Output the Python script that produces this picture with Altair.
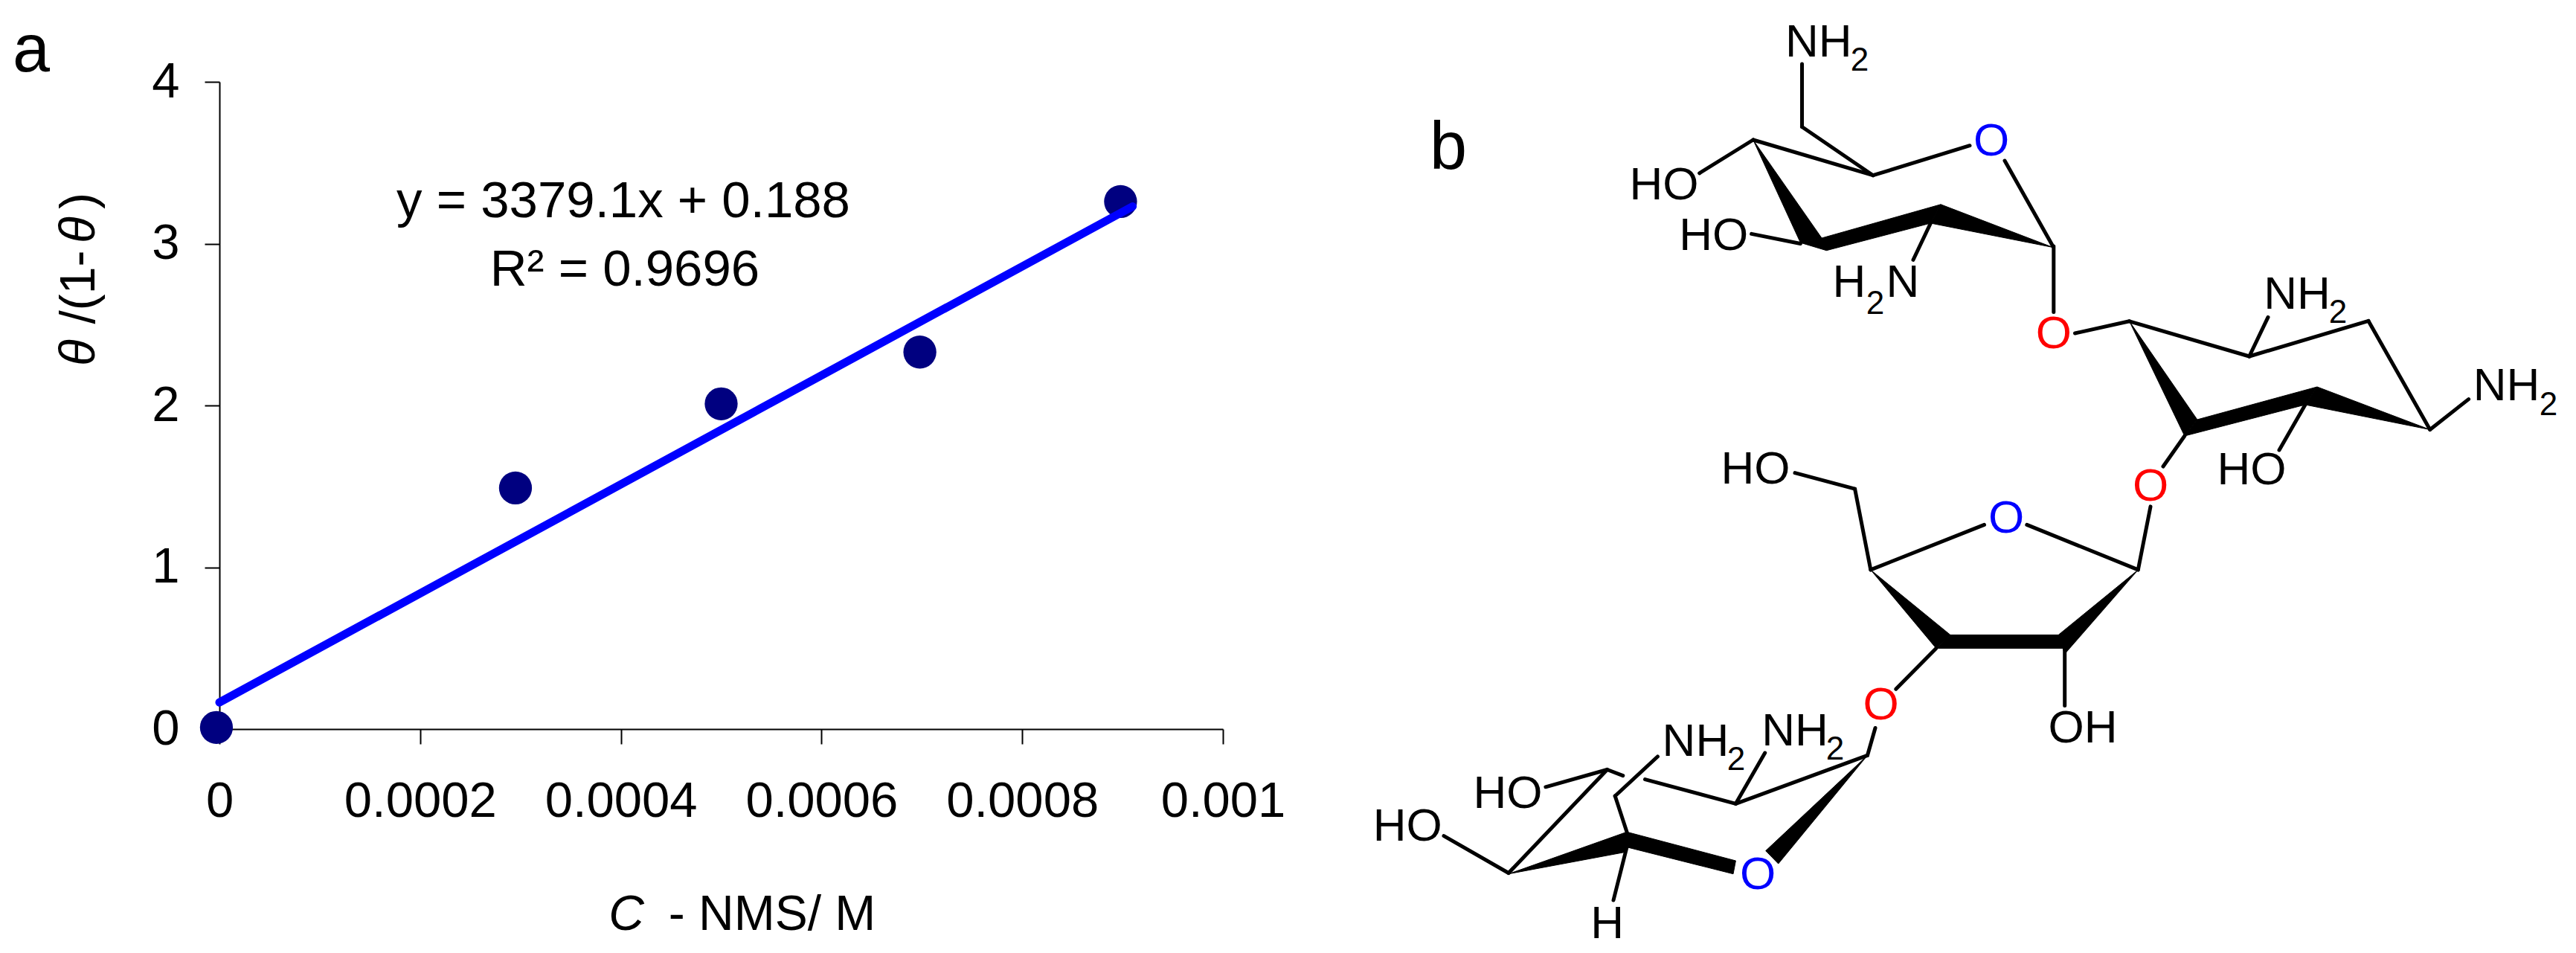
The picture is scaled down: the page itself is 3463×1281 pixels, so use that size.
import altair as alt
import pandas as pd

FONT = "Liberation Sans"

# Panel a: measurements and fitted line
conc = [-0.000003, 0.000295, 0.0005, 0.000698, 0.000898]
theta_ratio = [0.01, 1.49, 2.01, 2.33, 3.26]
fit_x = [0, 0.00091]
fit_y = [0.165, 3.23]
x_ticks = [0, 0.0002, 0.0004, 0.0006, 0.0008, 0.001]
y_ticks = [0, 1, 2, 3, 4]

# Panel b and annotations live on a figure-coordinate scale
bonds = [
    (2422.5, 86, 2422.5, 170.5), (2422.5, 170.5, 2518, 235.7), (2356.8, 188, 2518, 235.7),
    (2518, 235.7, 2648, 195.7), (2695, 216, 2759.8, 331), (2356.8, 188, 2284.6, 232.8),
    (2420.4, 327.5, 2354.6, 314.4), (2595.4, 300, 2572, 349.3), (2760.8, 331, 2760.8, 419.6),
    (2789.5, 448, 2862.6, 431.8), (2862.6, 431.8, 3023.8, 479), (3023.8, 479, 3184, 431.4),
    (3184, 431.4, 3266.7, 577.5), (3023.8, 479, 3049, 426.4), (3266.7, 577.5, 3318.6, 536.6),
    (3099, 544, 3064, 605), (2936.8, 586, 2908, 627), (2413, 635.6, 2493.6, 657.2),
    (2493.6, 657.2, 2514.8, 765.9), (2514.8, 765.9, 2667.5, 705.4), (2724.8, 705.4, 2874.3, 765.9),
    (2874.3, 765.9, 2891, 680.9), (2775.7, 871.4, 2775.7, 948.6), (2602.8, 871.4, 2548.7, 926.2),
    (2521, 978.5, 2510.5, 1015.3), (2510.5, 1015.3, 2333.4, 1080.3), (2333.4, 1080.3, 2211.5, 1047.6),
    (2181.8, 1042.7, 2160.6, 1034.5), (2333.4, 1080.3, 2372.7, 1012), (2228.4, 1017, 2171.2, 1070),
    (2171.2, 1070, 2187, 1118.3), (2160.6, 1034.5, 2077.9, 1057.8), (2160.6, 1034.5, 2028, 1173.5),
    (2028, 1173.5, 1941, 1123.6), (2187, 1138.7, 2169, 1210),
]
wedges = [
    [(2356.8, 188), (2449, 320), (2420.4, 326.2)],
    [(2420.4, 326.2), (2455.4, 336.7), (2595.4, 300), (2609, 274.8), (2449, 320)],
    [(2609, 274.8), (2595.4, 300), (2759.8, 332.5)],
    [(2862.6, 431.8), (2953.8, 564), (2936.8, 586)],
    [(2936.8, 586), (3099, 544), (3115, 520), (2953.8, 564)],
    [(3115, 520), (3099, 544), (3266.7, 577.5)],
    [(2514.8, 766), (2621.9, 853.4), (2602.8, 871.4)],
    [(2602.8, 871.4), (2621.9, 853.4), (2767.2, 853.4), (2775.7, 871.4)],
    [(2874.3, 766), (2767.2, 853.4), (2775.7, 879)],
    [(2028, 1174.7), (2187, 1118.3), (2187, 1145)],
    [(2187, 1118.3), (2333.4, 1157), (2330, 1174.7), (2187, 1138.7)],
    [(2510.5, 1015.3), (2373.7, 1143.6), (2390.7, 1161)],
]
atom_black = [
    ("NH", 2444.8, 57), ("HO", 2237, 249), ("HO", 2303.7, 316.5), ("H", 2486, 380), ("N", 2558, 380),
    ("NH", 3088, 395.6), ("NH", 3369.5, 518.5), ("HO", 3027, 632), ("HO", 2360, 631), ("OH", 2800, 979),
    ("NH", 2413, 982.6), ("NH", 2279.4, 996.9), ("HO", 2027, 1067), ("HO", 1892.3, 1111), ("H", 2160.6, 1242),
]
atom_sub = [
    ("2", 2500, 82), ("2", 2521, 409), ("2", 3143, 421), ("2", 3426, 545), ("2", 2467, 1008), ("2", 2334, 1022),
]
atom_blue = [("O", 2677, 190), ("O", 2697, 697), ("O", 2363, 1176)]
atom_red = [("O", 2760.8, 449), ("O", 2891, 654), ("O", 2528.6, 948)]
panel_letters = [("a", 42, 69), ("b", 1947, 200)]
annotations = [("y = 3379.1x + 0.188", 838, 271), ("R² = 0.9696", 840, 363)]
x_title = [("- NMS/ M", 1038, 1230)]
x_title_it = [("C", 842, 1230)]
y_title = [("/(1-", 107, 386), (")", 107, 270)]
y_title_it = [("θ", 107, 474), ("θ", 107, 309)]

PX = alt.Scale(domain=[295, 1644], nice=False, zero=False)
PY = alt.Scale(domain=[980, 110], nice=False, zero=False)


def text_layer(rows, size, color="black", **kw):
    df = pd.DataFrame(rows, columns=["t", "x", "y"])
    return alt.Chart(df).mark_text(font=FONT, fontSize=size, color=color, align="center", baseline="middle", **kw).encode(
        x=alt.X("x:Q", scale=PX, axis=None), y=alt.Y("y:Q", scale=PY, axis=None), text="t:N"
    )


data = pd.DataFrame({"c": conc, "r": theta_ratio})
fit = pd.DataFrame({"c": fit_x, "r": fit_y})
xs = alt.Scale(domain=[0, 0.001], nice=False, zero=False)
ys = alt.Scale(domain=[0, 4], nice=False, zero=False)

axis_style = dict(grid=False, domainColor="black", domainWidth=2, tickColor="black", tickWidth=2, tickSize=20,
                  labelFont=FONT, labelFontSize=67, labelColor="black", title=None, labelLimit=500)

points = alt.Chart(data).mark_point(filled=True, size=1963, color="#000080", opacity=1, clip=False).encode(
    x=alt.X("c:Q", scale=xs, axis=alt.Axis(values=x_ticks, format="~g", labelPadding=44, labelFlush=False, labelOverlap=False, **axis_style)),
    y=alt.Y("r:Q", scale=ys, axis=alt.Axis(values=y_ticks, format="d", labelPadding=34, **axis_style)),
)
line = alt.Chart(fit).mark_line(color="#0000FF", strokeWidth=11, strokeCap="round").encode(
    x=alt.X("c:Q", scale=xs, axis=None), y=alt.Y("r:Q", scale=ys, axis=None)
)

bond_df = pd.DataFrame(bonds, columns=["x", "y", "x2", "y2"])
bond_layer = alt.Chart(bond_df).mark_rule(color="black", strokeWidth=5, strokeCap="round").encode(
    x=alt.X("x:Q", scale=PX, axis=None), y=alt.Y("y:Q", scale=PY, axis=None), x2="x2:Q", y2="y2:Q"
)
wedge_df = pd.DataFrame(
    [(i, j, px, py) for i, w in enumerate(wedges) for j, (px, py) in enumerate(w)], columns=["w", "j", "x", "y"]
)
wedge_layer = alt.Chart(wedge_df).mark_line(color="black", fill="black", stroke="black", strokeWidth=1, interpolate="linear-closed").encode(
    x=alt.X("x:Q", scale=PX, axis=None), y=alt.Y("y:Q", scale=PY, axis=None), detail="w:N", order="j:Q"
)

chart = alt.layer(
    points, line,
    wedge_layer, bond_layer,
    text_layer(atom_black, 62), text_layer(atom_sub, 44),
    text_layer(atom_blue, 62, "#0000FF"), text_layer(atom_red, 62, "#FF0000"),
    text_layer(panel_letters, 90), text_layer(annotations, 69),
    text_layer(x_title, 66), text_layer(x_title_it, 66, fontStyle="italic"),
    text_layer(y_title, 66, angle=270), text_layer(y_title_it, 66, angle=270, fontStyle="italic"),
).resolve_scale(x="independent", y="independent").properties(
    width=1349, height=870,
    autosize=alt.AutoSizeParams(type="none"),
    padding={"left": 287, "top": 102, "right": 1811, "bottom": 293},
    background="white",
).configure_view(stroke=None)

chart.save("out.html", embed_options={"renderer": "svg", "actions": False})
